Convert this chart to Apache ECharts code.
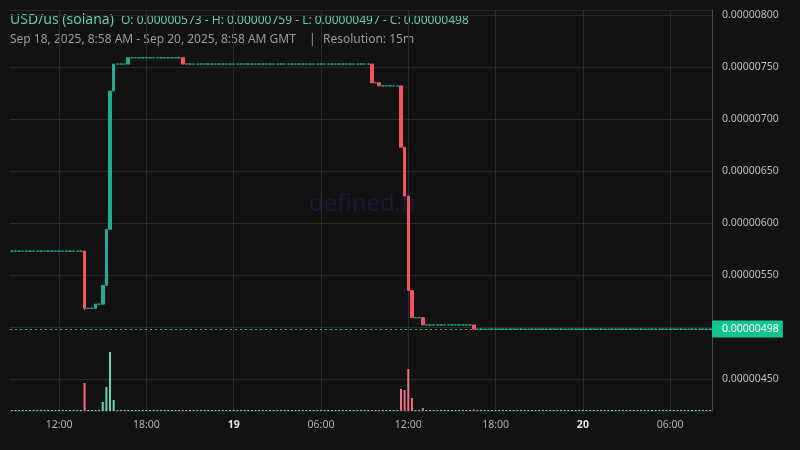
<!DOCTYPE html>
<html><head><meta charset="utf-8">
<script src="https://cdn.jsdelivr.net/npm/echarts@6/dist/echarts.min.js"></script>
<style>html,body{margin:0;padding:0;background:#121212;}#c{width:800px;height:450px;}</style>
</head><body><div id="c"></div>
<script>
// ---- data (prices in units of 1e-8 USD) ----
const PRICE_UNIT = 1e-8;
const firstBucketUTC = Date.UTC(2025, 8, 18, 8, 45); // first 15m bucket
const bucketMinutes = 15;
const tickLabels = ['12:00', '18:00', '19', '06:00', '12:00', '18:00', '20', '06:00'];

const openPx = [
573,573,573,573,573,573,573,573,573,573, 573,573,573,573,573,573,573,573,573,573,
573,518,518,518,522,522,540,594,727,753, 753,753,753,759,759,759,759,759,759,759,
759,759,759,759,759,759,759,759,753,753, 753,753,753,753,753,753,753,753,753,753,
753,753,753,753,753,753,753,753,753,753, 753,753,753,753,753,753,753,753,753,753,
753,753,753,753,753,753,753,753,753,753, 753,753,753,753,753,753,753,753,753,753,
735,735,732,732,732,732,732,732,673,626, 535,509,509,509,502,502,502,502,502,502,
502,502,502,502,502,502,502,502,498,498, 498,498,498,498,498,498,498,498,498,498,
498,498,498,498,498,498,498,498,498,498, 498,498,498,498,498,498,498,498,498,498,
498,498,498,498,498,498,498,498,498,498, 498,498,498,498,498,498,498,498,498,498,
498,498,498,498,498,498,498,498,498,498, 498,498,498];
const closePx = [
573,573,573,573,573,573,573,573,573,573, 573,573,573,573,573,573,573,573,573,573,
518,518,518,522,522,540,594,727,753,753, 753,753,759,759,759,759,759,759,759,759,
759,759,759,759,759,759,759,753,753,753, 753,753,753,753,753,753,753,753,753,753,
753,753,753,753,753,753,753,753,753,753, 753,753,753,753,753,753,753,753,753,753,
753,753,753,753,753,753,753,753,753,753, 753,753,753,753,753,753,753,753,753,735,
735,732,732,732,732,732,732,673,626,535, 509,509,509,502,502,502,502,502,502,502,
502,502,502,502,502,502,502,498,498,498, 498,498,498,498,498,498,498,498,498,498,
498,498,498,498,498,498,498,498,498,498, 498,498,498,498,498,498,498,498,498,498,
498,498,498,498,498,498,498,498,498,498, 498,498,498,498,498,498,498,498,498,498,
498,498,498,498,498,498,498,498,498,498, 498,498,498];
const lowPx = [
573,573,573,573,573,573,573,573,573,573, 573,573,573,573,573,573,573,573,573,573,
516,518,518,518,522,522,540,594,727,753, 753,753,753,759,759,759,759,759,759,759,
759,759,759,759,759,759,759,753,753,753, 753,753,753,753,753,753,753,753,753,753,
753,753,753,753,753,753,753,753,753,753, 753,753,753,753,753,753,753,753,753,753,
753,753,753,753,753,753,753,753,753,753, 753,753,753,753,753,753,753,753,753,735,
735,732,732,732,732,732,732,673,626,535, 509,509,509,502,502,502,502,502,502,502,
502,502,502,502,502,502,502,497,498,498, 498,498,498,498,498,498,498,498,498,498,
498,498,498,498,498,498,498,498,498,498, 498,498,498,498,498,498,498,498,498,498,
498,498,498,498,498,498,498,498,498,498, 498,498,498,498,498,498,498,498,498,498,
498,498,498,498,498,498,498,498,498,498, 498,498,498];
const highPx = [
573,573,573,573,573,573,573,573,573,573, 573,573,573,573,573,573,573,573,573,573,
573,518,518,522,522,540,594,727,753,753, 753,753,759,759,759,759,759,759,759,759,
759,759,759,759,759,759,759,759,753,753, 753,753,753,753,753,753,753,753,753,753,
753,753,753,753,753,753,753,753,753,753, 753,753,753,753,753,753,753,753,753,753,
753,753,753,753,753,753,753,753,753,753, 753,753,753,753,753,753,753,753,753,753,
735,735,732,732,732,732,732,732,673,626, 535,509,509,509,502,502,502,502,502,502,
502,502,502,502,502,502,502,502,498,498, 498,498,498,498,498,498,498,498,498,498,
498,498,498,498,498,498,498,498,498,498, 498,498,498,498,498,498,498,498,498,498,
498,498,498,498,498,498,498,498,498,498, 498,498,498,498,498,498,498,498,498,498,
498,498,498,498,498,498,498,498,498,498, 498,498,498];
// volume (relative units)
const volume = [
1,1,1,1,1,1,1,1,1,1, 1,1,1,1,1,1,1,1,1,1,
28,1,1,1,1,9,24,59,11,1, 1,1,1,1,1,1,1,1,1,1,
1,1,1,1,1,1,1,1,1,1, 1,1,1,1,1,1,1,1,1,1,
1,1,1,1,1,1,1,1,1,1, 1,1,1,1,1,1,1,1,1,1,
1,1,1,1,1,1,1,1,1,1, 1,1,1,1,1,1,1,1,1,1,
1,1,1,1,1,1,1,22,21,42, 13,1,1,3,1,1,1,1,1,1,
1,1,1,1,1,1,1,1.5,1,1, 1,1,1,1,1,1,1,1,1,1,
1,1,1,1,1,1,1,1,1,1, 1,1,1,1,1,1,1,1,1,1,
1,1,1,1,1,1,1,1,1,1, 1,1,1,1,1,1,1,1,1,1,
1,1,1,1,1,1,1,1,1,1, 1,1,1];
const lastPrice = 498;

// ---- build ----
const UP = '#22ab94', DOWN = '#f7525f', VUP = '#66d5b4', VDOWN = '#ef6f84';
const PRICE_LINE = '#12c48e';
const FONT = 'Noto Sans';
const cats = closePx.map((_, i) => {
  const d = new Date(firstBucketUTC + i * bucketMinutes * 60000);
  return { h: d.getUTCHours(), m: d.getUTCMinutes(), day: d.getUTCDate() };
});
const catNames = cats.map(c => c.day + ' ' + String(c.h).padStart(2, '0') + ':' + String(c.m).padStart(2, '0'));
const isTick = (i) => cats[i].m === 0 && cats[i].h % 6 === 0;
let tickIdx = 0;
const tickLabelMap = {};
cats.forEach((c, i) => { if (isTick(i)) tickLabelMap[i] = tickLabels[tickIdx++]; });

const candleData = closePx.map((c, i) => {
  const col = c < openPx[i] ? DOWN : UP;
  return { value: [openPx[i] * PRICE_UNIT, c * PRICE_UNIT, lowPx[i] * PRICE_UNIT, highPx[i] * PRICE_UNIT],
    itemStyle: { color: col, color0: col, borderColor: col, borderColor0: col, borderColorDoji: col } };
});
const volData = volume.map((v, i) => ({ value: v, itemStyle: { color: closePx[i] < openPx[i] ? VDOWN : VUP } }));

const chart = echarts.init(document.getElementById('c'));
chart.setOption({
  backgroundColor: '#121212',
  animation: false,
  textStyle: { fontFamily: FONT },
  axisPointer: { triggerOn: 'none' },
  grid: { left: 10, right: 88, top: 10, bottom: 39 },
  graphic: [
    { type: 'text', left: 309, top: 192, z: 0, silent: true,
      style: { text: 'defined.fi', fontSize: 24, fontFamily: FONT, fill: '#1c1a33' } },
    { type: 'text', left: 10, top: 13, style: { text: 'USD/us (solana)', fontSize: 14, fontFamily: FONT, fill: '#5ccfae' } },
    { type: 'text', left: 121, top: 15, style: { text: 'O: 0.00000573 - H: 0.00000759 - L: 0.00000497 - C: 0.00000498', fontSize: 12, fontFamily: FONT, fill: '#5ccfae' } },
    { type: 'text', left: 10, top: 34, style: { text: 'Sep 18, 2025, 8:58 AM - Sep 20, 2025, 8:58 AM GMT', fontSize: 12, fontFamily: FONT, fill: '#9a9a9a' } },
    { type: 'text', left: 309, top: 34, style: { text: '|', fontSize: 12, fontFamily: FONT, fill: '#9a9a9a' } },
    { type: 'text', left: 323, top: 34, style: { text: 'Resolution: 15m', fontSize: 12, fontFamily: FONT, fill: '#9a9a9a' } }
  ],
  xAxis: {
    type: 'category', data: catNames, boundaryGap: true,
    axisLine: { show: false }, axisTick: { show: false },
    axisPointer: { show: false },
    axisLabel: {
      interval: (i) => isTick(i), margin: 9, fontSize: 10.5, color: '#b0b0b0', fontFamily: FONT,
      formatter: (v, i) => { const t = tickLabelMap[i] || ''; return cats[i].h === 0 ? '{b|' + t + '}' : t; },
      rich: { b: { fontWeight: 'bold', color: '#e6e6e6', fontSize: 10.5, fontFamily: FONT } }
    },
    splitLine: { show: true, interval: (i) => isTick(i), alignWithLabel: true, lineStyle: { color: '#2a2a2a', width: 1 } }
  },
  yAxis: [
    { type: 'value', position: 'right', scale: true, min: 0.000004192, max: 0.00000805, splitNumber: 8,
      axisLine: { show: true, lineStyle: { color: '#4a4a4a' } }, axisTick: { show: false },
      axisLabel: { color: '#bdbdbd', fontSize: 10.5, margin: 10, fontFamily: FONT,
        formatter: (v) => { const k = Math.round(v / 5e-7); return Math.abs(v - k * 5e-7) < 1e-10 ? v.toFixed(8) : ''; } },
      splitLine: { lineStyle: { color: '#2a2a2a', width: 1 } },
      axisPointer: {
        show: true, type: 'line', snap: false, status: 'show', value: lastPrice * PRICE_UNIT,
        triggerTooltip: false, triggerEmphasis: false,
        lineStyle: { color: PRICE_LINE, type: [2, 3], width: 1 },
        label: { show: true, margin: 0, formatter: (p) => (lastPrice * PRICE_UNIT).toFixed(8),
          backgroundColor: PRICE_LINE, color: '#ffffff', fontSize: 10.5, fontFamily: FONT, padding: [3, 4, 3, 10],
          borderRadius: 0, shadowBlur: 0 },
        handle: { show: false }
      } },
    { type: 'value', min: 0, max: 401, show: false, splitLine: { show: false }, axisPointer: { show: false } }
  ],
  series: [
    { type: 'bar', xAxisIndex: 0, yAxisIndex: 1, data: volData, barWidth: 2, z: 1 },
    { type: 'candlestick', data: candleData, barWidth: 3, z: 3,
      itemStyle: { borderWidth: 1 } }
  ]
});
</script></body></html>
